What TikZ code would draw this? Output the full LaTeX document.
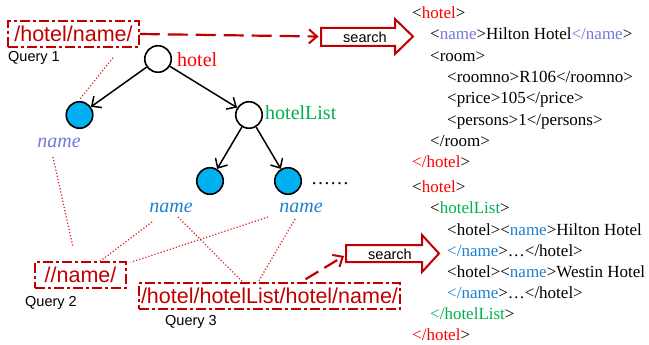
\documentclass[tikz,border=0pt]{standalone}
\usepackage{fontspec}
\setmainfont{Liberation Serif}
\newfontfamily\arialfam{Liberation Sans}
\usetikzlibrary{arrows.meta}
\definecolor{qred}{HTML}{C00000}
\definecolor{tred}{HTML}{FF0000}
\definecolor{tgreen}{HTML}{00B050}
\definecolor{lav}{HTML}{7777DD}
\definecolor{nblue}{HTML}{1F80D0}
\definecolor{cfill}{HTML}{00B0F0}
\definecolor{dotred}{HTML}{E02020}
\newcommand\xmlo[2]{<\textcolor{#1}{#2}>}
\newcommand\xmlc[2]{\textcolor{#1}{</#2}>}
\begin{document}
\begin{tikzpicture}[x=1pt,y=-1pt,
  treenode/.style={circle,draw=black,line width=1.6pt,minimum size=26.5pt,inner sep=0pt},
  leaf/.style={treenode,fill=cfill},
  inner/.style={treenode,fill=white},
  treearrow/.style={line width=1.5pt,-{Straight Barb[length=7.5pt,width=14pt,line width=1.5pt]}},
  querybox/.style={draw=qred,line width=1.5pt,dash pattern=on 10pt off 3pt on 3pt off 3pt,text=qred,inner sep=0pt,font=\arialfam\fontsize{21.5}{24}\selectfont},
  qlabel/.style={anchor=base west,inner sep=0pt,font=\arialfam\fontsize{14.5}{16}\selectfont},
  dotline/.style={dotred,line width=1.2pt,dash pattern=on 1.2pt off 2pt},
  dasharrow/.style={qred,line width=2.2pt,dash pattern=on 20pt off 8pt,-{Straight Barb[length=8pt,width=14pt,line width=2pt]}},
  dasharrowb/.style={qred,line width=2.2pt,dash pattern=on 15pt off 7pt,-{Straight Barb[length=8pt,width=14pt,line width=2pt]}},
  searchshape/.style={draw=qred,line width=2pt,fill=white,line join=miter},
  searchtext/.style={inner sep=0pt,font=\arialfam\fontsize{14.5}{16}\selectfont},
  xml/.style={anchor=base west,inner sep=0pt,font=\fontsize{17}{20}\selectfont},
  tlabel/.style={anchor=base west,inner sep=0pt,font=\fontsize{20}{24}\selectfont},
  nlabel/.style={anchor=base,inner sep=0pt,font=\itshape\fontsize{20}{24}\selectfont},
]
\useasboundingbox (0,0) rectangle (649,345);
\fill[white] (0,0) rectangle (649,345);

% tree
\node[inner] (root) at (158,59) {};
\node[leaf] (n1) at (79.5,115) {};
\node[inner] (hl) at (249,115) {};
\node[leaf] (n2) at (210,181) {};
\node[leaf] (n3) at (288,181) {};
\node[tlabel,text=tred] (lroot) at (177,67) {hotel};
\node[tlabel,text=tgreen] (lhl) at (265,120) {hotelList};
\node[tlabel,font=\fontsize{19}{22}\selectfont] (dots) at (311,185) {……};
\node[nlabel,text=lav] (nm1) at (59,147) {name};
\node[nlabel,text=nblue] (nm2) at (171,212) {name};
\node[nlabel,text=nblue] (nm3) at (301,212) {name};
\draw[treearrow] (root) -- (n1);
\draw[treearrow] (root) -- (hl);
\draw[treearrow] (hl) -- (n2);
\draw[treearrow] (hl) -- (n3);

% queries
\node[querybox,minimum width=131pt,minimum height=26pt] (q1) at (73.5,34) {/hotel/name/};
\node[querybox,minimum width=91pt,minimum height=26pt] (q2) at (80.5,275) {//name/};
\node[querybox,minimum width=261pt,minimum height=26pt] (q3) at (269.5,296) {/hotel/hotelList/hotel/name/};
\node[qlabel] (ql1) at (8,61.5) {Query 1};
\node[qlabel] (ql2) at (25,306) {Query 2};
\node[qlabel] (ql3) at (165,325) {Query 3};

% dotted links
\draw[dotline] ([shift={(39.5,10)}]q1.south) -- ([shift={(0.5,-2)}]n1.north);
\draw[dotline] ([shift={(-6,10)}]nm1.base) -- ([shift={(-7.5,-14)}]q2.north);
\draw[dotline] ([shift={(-19,10)}]nm2.base) -- ([shift={(19.5,0)}]q2.north);
\draw[dotline] ([shift={(7,5)}]nm2.base) -- ([shift={(-27.5,-1)}]q3.north);
\draw[dotline] ([shift={(-33,5)}]nm3.base) -- ([shift={(4,1)}]q2.north east);
\draw[dotline] ([shift={(-6,7)}]nm3.base) -- ([shift={(-11.5,0)}]q3.north);

% search arrows
\draw[searchshape] (321,28) -- (395,28) -- (395,19) -- (413,36.5) -- (395,54) -- (395,46) -- (321,46) -- cycle;
\node[searchtext] (s1) at (365,37.5) {search};
\coordinate (s1tail) at (318.5,36.5);
\draw[searchshape] (346,245) -- (422,245) -- (422,235) -- (439,253.5) -- (422,272) -- (422,262) -- (346,262) -- cycle;
\node[searchtext] (s2) at (390,254) {search};
\coordinate (s2tail) at (344,256);
\draw[dasharrow] (q1.east) -- (s1tail);
\draw[dasharrowb] ([shift={(36,-3)}]q3.north) -- (s2tail);

% xml block 1
\node[xml] (a1) at (412,18.5) {\xmlo{tred}{hotel}};
\node[xml] (a2) at (430,39.8) {\xmlo{lav}{name}Hilton Hotel\xmlc{lav}{name}};
\node[xml] (a3) at (430,61.1) {<room>};
\node[xml] (a4) at (447,82.4) {<roomno>R106</roomno>};
\node[xml] (a5) at (447,103.7) {<price>105</price>};
\node[xml] (a6) at (447,125) {<persons>1</persons>};
\node[xml] (a7) at (430,146.3) {</room>};
\node[xml] (a8) at (412,167.6) {\xmlc{tred}{hotel}};

% xml block 2
\node[xml] (b1) at (412,193) {\xmlo{tred}{hotel}};
\node[xml] (b2) at (430,214) {\xmlo{tgreen}{hotelList}};
\node[xml] (b3) at (447,235) {<hotel>\xmlo{nblue}{name}Hilton Hotel};
\node[xml] (b4) at (447,256) {\xmlc{nblue}{name}…</hotel>};
\node[xml] (b5) at (447,277) {<hotel>\xmlo{nblue}{name}Westin Hotel};
\node[xml] (b6) at (447,298) {\xmlc{nblue}{name}…</hotel>};
\node[xml] (b7) at (430,319) {\xmlc{tgreen}{hotelList}};
\node[xml] (b8) at (412,340) {\xmlc{tred}{hotel}};
\end{tikzpicture}
\end{document}
